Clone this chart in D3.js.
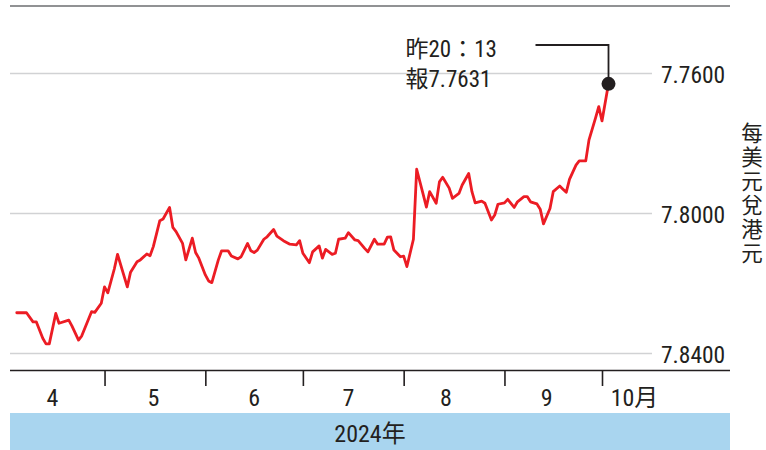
<!DOCTYPE html>
<html>
<head>
<meta charset="utf-8">
<script src="https://cdn.jsdelivr.net/npm/d3@7"></script>
<style>
  body { margin: 0; background: #fff; }
  svg { display: block; }
  text { font-family: 'Liberation Sans Narrow', 'Arial Narrow', 'Roboto Condensed', 'Noto Sans CJK TC', sans-serif; fill: #231f20; }
</style>
</head>
<body>
<svg id="chart" width="766" height="450"></svg>
<script>
// ---------- data ----------
const dates = [
  "2024-04-04","2024-04-07","2024-04-09","2024-04-10","2024-04-12","2024-04-13","2024-04-14","2024-04-16","2024-04-17","2024-04-20",
  "2024-04-21","2024-04-23","2024-04-24","2024-04-27","2024-04-28","2024-04-30","2024-05-01","2024-05-02","2024-05-04","2024-05-05",
  "2024-05-08","2024-05-09","2024-05-11","2024-05-12","2024-05-14","2024-05-15","2024-05-16","2024-05-18","2024-05-19","2024-05-21",
  "2024-05-22","2024-05-23","2024-05-25","2024-05-26","2024-05-28","2024-05-29","2024-05-30","2024-06-01","2024-06-02","2024-06-03",
  "2024-06-05","2024-06-06","2024-06-08","2024-06-09","2024-06-11","2024-06-12","2024-06-14","2024-06-15","2024-06-16","2024-06-17",
  "2024-06-19","2024-06-20","2024-06-22","2024-06-23","2024-06-25","2024-06-27","2024-06-29","2024-06-30","2024-07-01","2024-07-03",
  "2024-07-04","2024-07-06","2024-07-07","2024-07-08","2024-07-10","2024-07-11","2024-07-12","2024-07-14","2024-07-15","2024-07-17",
  "2024-07-18","2024-07-20","2024-07-21","2024-07-23","2024-07-24","2024-07-26","2024-07-27","2024-07-28","2024-07-29","2024-07-31",
  "2024-08-01","2024-08-02","2024-08-04","2024-08-05","2024-08-07","2024-08-08","2024-08-09","2024-08-11","2024-08-12","2024-08-13",
  "2024-08-15","2024-08-16","2024-08-18","2024-08-19","2024-08-21","2024-08-22","2024-08-23","2024-08-25","2024-08-26","2024-08-28",
  "2024-08-29","2024-08-30","2024-09-01","2024-09-02","2024-09-04","2024-09-05","2024-09-07","2024-09-08","2024-09-09","2024-09-11",
  "2024-09-12","2024-09-13","2024-09-15","2024-09-16","2024-09-18","2024-09-19","2024-09-20","2024-09-21","2024-09-23","2024-09-24",
  "2024-09-26","2024-09-27","2024-09-29","2024-09-30","2024-10-01","2024-10-03"
];
const rates = [
  7.8285,7.8285,7.8311,7.8311,7.8358,7.8374,7.8374,7.8287,7.8315,7.8306,
  7.8323,7.8363,7.8351,7.8282,7.8284,7.8258,7.8211,7.8228,7.8160,7.8118,
  7.8211,7.8169,7.8139,7.8134,7.8117,7.8122,7.8096,7.8022,7.8017,7.7984,
  7.8041,7.8053,7.8087,7.8134,7.8072,7.8113,7.8129,7.8177,7.8194,7.8199,
  7.8134,7.8108,7.8108,7.8123,7.8131,7.8125,7.8087,7.8108,7.8113,7.8106,
  7.8075,7.8068,7.8047,7.8066,7.8079,7.8089,7.8091,7.8079,7.8115,7.8142,
  7.8111,7.8094,7.8129,7.8104,7.8118,7.8115,7.8075,7.8072,7.8056,7.8077,
  7.8079,7.8101,7.8111,7.8075,7.8089,7.8089,7.8069,7.8068,7.8106,7.8125,
  7.8123,7.8153,7.8075,7.7875,7.7947,7.7983,7.7939,7.7972,7.7911,7.7898,
  7.7929,7.7958,7.7944,7.7920,7.7887,7.7939,7.7971,7.7966,7.7972,7.8020,
  7.8006,7.7975,7.7971,7.7961,7.7984,7.7968,7.7953,7.7953,7.7968,7.7974,
  7.7989,7.8031,7.7987,7.7939,7.7923,7.7932,7.7941,7.7904,7.7863,7.7851,
  7.7851,7.7791,7.7729,7.7696,7.7737,7.7631
];
const yTicks = [7.76, 7.80, 7.84];
const monthStarts = ["2024-05-01","2024-06-01","2024-07-01","2024-08-01","2024-09-01","2024-10-01"];
const monthLabels = ["4", "5", "6", "7", "8", "9", "10月"];
const monthLabelDates = ["2024-04-15","2024-05-16","2024-06-16","2024-07-15","2024-08-14","2024-09-14","2024-10-11"];
const yTitle = "每美元兌港元";
const yearLabel = "2024年";
const noteLines = ["昨20：13", "報7.7631"];

// ---------- chart ----------
const parse = d3.timeParse("%Y-%m-%d");
const data = dates.map((d, i) => ({ date: parse(d), v: rates[i] }));

const svg = d3.select("#chart");
const x = d3.scaleTime().domain([parse("2024-04-01"), parse("2024-10-01")]).range([7, 602]);
const y = d3.scaleLinear().domain([7.76, 7.84]).range([73, 353]);

// top rule
svg.append("line").attr("x1", 10).attr("x2", 730).attr("y1", 6).attr("y2", 6)
  .attr("stroke", "#6d6e70").attr("stroke-width", 1.6);

// right axis with gridlines
const yAxis = svg.append("g").attr("transform", "translate(652,0)")
  .call(d3.axisRight(y).tickValues(yTicks).tickSize(-642).tickPadding(9).tickFormat(d3.format(".4f")));
yAxis.select(".domain").remove();
yAxis.selectAll(".tick line").attr("stroke", "#d1d2d4").attr("stroke-width", 1.6);
yAxis.selectAll(".tick text").attr("font-size", 23.5).attr("dy", "0.42em").attr("fill", "#231f20")
  .style("font-family", "'Liberation Sans Narrow','Arial Narrow','Roboto Condensed',sans-serif");

// y title (vertical writing)
svg.append("text")
  .attr("x", 752).attr("y", 122)
  .attr("font-size", 21.5)
  .style("writing-mode", "vertical-rl")
  .style("letter-spacing", "2.5px")
  .style("font-family", "'Noto Sans CJK TC', sans-serif")
  .text(yTitle);

// bottom axis
svg.append("line").attr("x1", 10).attr("x2", 730).attr("y1", 370.5).attr("y2", 370.5)
  .attr("stroke", "#231f20").attr("stroke-width", 1.6);
const xAxis = svg.append("g").attr("transform", "translate(0,370)")
  .call(d3.axisBottom(x).tickValues(monthStarts.map(parse)).tickSize(16).tickFormat(""));
xAxis.select(".domain").remove();
xAxis.selectAll(".tick line").attr("stroke", "#231f20").attr("stroke-width", 1.6);

svg.append("g").selectAll("text").data(monthLabels).join("text")
  .attr("x", (d, i) => x(parse(monthLabelDates[i])))
  .attr("y", 406)
  .attr("text-anchor", "middle")
  .attr("font-size", 24)
  .text(d => d);

// year band
svg.append("rect").attr("x", 10).attr("y", 413).attr("width", 720).attr("height", 37).attr("fill", "#a9d5ef");
svg.append("text").attr("x", 370).attr("y", 442).attr("text-anchor", "middle").attr("font-size", 24).text(yearLabel);

// line
const line = d3.line().x(d => x(d.date)).y(d => y(d.v));
svg.append("path").datum(data).attr("d", line)
  .attr("fill", "none").attr("stroke", "#ec1c24").attr("stroke-width", 2.8)
  .attr("stroke-linejoin", "round").attr("stroke-linecap", "round");

// annotation
const last = data[data.length - 1];
const lx = x(last.date), ly = y(last.v);
svg.append("path")
  .attr("d", `M${lx - 73},45 H${lx} V${ly}`)
  .attr("fill", "none").attr("stroke", "#231f20").attr("stroke-width", 1.8);
svg.append("circle").attr("cx", lx).attr("cy", ly).attr("r", 7).attr("fill", "#231f20");
svg.append("g").selectAll("text").data(noteLines).join("text")
  .attr("x", lx - 203).attr("y", (d, i) => 57 + i * 30)
  .attr("font-size", 23)
  .text(d => d);
</script>
</body>
</html>
